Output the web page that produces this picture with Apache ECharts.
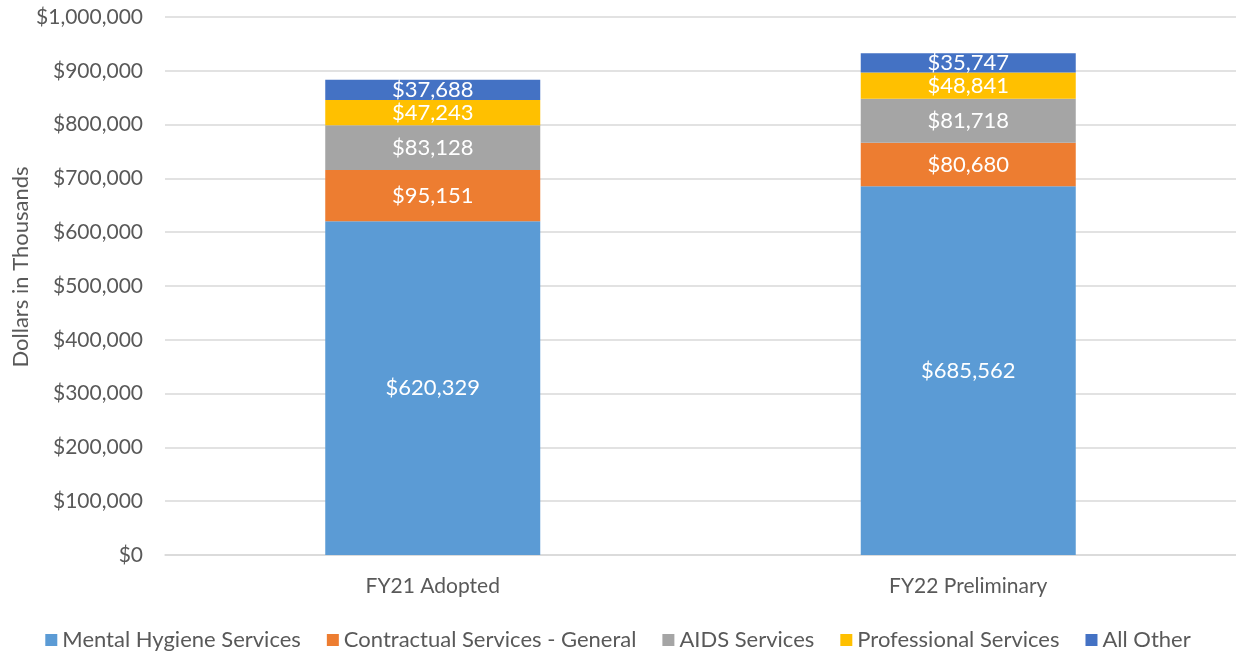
<!DOCTYPE html>
<html>
<head>
<meta charset="utf-8">
<script src="https://cdn.jsdelivr.net/npm/echarts@6/dist/echarts.min.js"></script>
<style>html,body{margin:0;padding:0;background:#fff}#c{width:1236px;height:653px}</style>
</head>
<body>
<div id="c"></div>
<script>
const categories = ['FY21 Adopted', 'FY22 Preliminary'];
const seriesNames = ['Mental Hygiene Services', 'Contractual Services - General', 'AIDS Services', 'Professional Services', 'All Other'];
const mentalHygiene = [620329, 685562];
const contractual = [95151, 80680];
const aids = [83128, 81718];
const professional = [47243, 48841];
const allOther = [37688, 35747];
const colors = ['#5B9BD5', '#ED7D31', '#A5A5A5', '#FFC000', '#4472C4'];
const axisTitle = 'Dollars in Thousands';
const FONT = 'Lato, "Open Sans", sans-serif';

const fmt = v => '$' + Number(v).toLocaleString('en-US');
const dataSets = [mentalHygiene, contractual, aids, professional, allOther];

const chart = echarts.init(document.getElementById('c'), null, {renderer: 'canvas'});
chart.setOption({
  animation: false,
  color: colors,
  textStyle: {fontFamily: FONT},
  grid: {left: 165, right: 0, top: 17, bottom: 98, containLabel: false},
  legend: {
    top: 624, left: 'center', itemWidth: 12, itemHeight: 12, itemGap: 26,
    icon: 'rect',
    textStyle: {fontSize: 22, color: '#595959', fontFamily: FONT},
    data: seriesNames
  },
  graphic: [{
    type: 'text', x: 21, y: 267, rotation: Math.PI / 2,
    style: {text: axisTitle, fontSize: 22, fill: '#595959', fontFamily: FONT, align: 'center', verticalAlign: 'middle'}
  }],
  xAxis: {
    type: 'category', data: categories,
    axisLine: {show: true, lineStyle: {color: '#D9D9D9', width: 1.5}},
    axisTick: {show: false},
    axisLabel: {fontSize: 21, color: '#595959', margin: 21, fontFamily: FONT}
  },
  yAxis: {
    type: 'value', min: 0, max: 1000000, interval: 100000,
    axisLine: {show: false}, axisTick: {show: false},
    splitLine: {lineStyle: {color: '#D9D9D9', width: 1.5}},
    axisLabel: {fontSize: 21, color: '#595959', margin: 22, formatter: fmt, fontFamily: FONT}
  },
  series: seriesNames.map((n, i) => ({
    name: n, type: 'bar', stack: 'total', barWidth: 215,
    data: dataSets[i],
    itemStyle: {color: colors[i]},
    label: {show: true, position: 'inside', color: '#FFFFFF', fontSize: 22, fontFamily: FONT, formatter: p => fmt(p.value)}
  }))
});
</script>
</body>
</html>
